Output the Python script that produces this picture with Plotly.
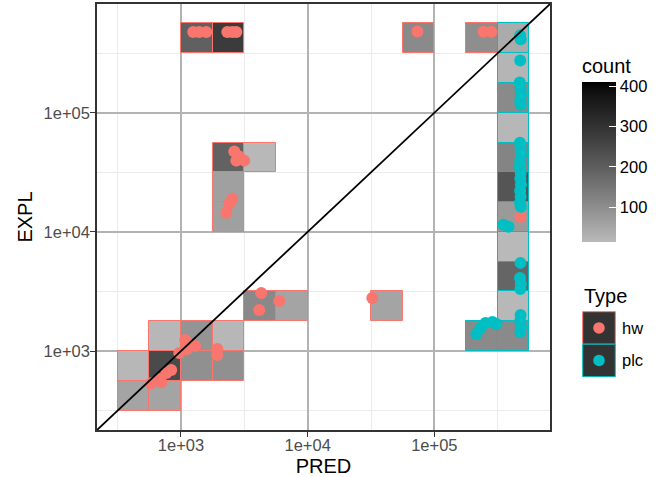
import numpy as np
import plotly.graph_objects as go

# ---------------- data ----------------
BINWIDTH = 0.25  # bin width in log10 units (both axes)

# hw bins: lower-left corner in log10(PRED), log10(EXPL), and count
hw_bin_pred = [3.0, 3.25, 4.75, 5.25, 3.25, 3.5, 3.25, 3.25, 3.5, 3.75, 4.5,
               2.75, 3.0, 3.25, 2.5, 2.75, 3.0, 3.25, 2.5, 2.75]
hw_bin_expl = [5.5, 5.5, 5.5, 5.5, 4.5, 4.5, 4.25, 4.0, 3.25, 3.25, 3.25,
               3.0, 3.0, 3.0, 2.75, 2.75, 2.75, 2.75, 2.5, 2.5]
hw_bin_count = [195, 280, 107, 100, 190, 15, 63, 63, 110, 55, 55,
                18, 88, 18, 18, 245, 95, 95, 55, 55]

# plc bins
plc_bin_pred = [5.5, 5.5, 5.5, 5.5, 5.5, 5.5, 5.5, 5.5, 5.5, 5.5, 5.5, 5.25]
plc_bin_expl = [5.5, 5.25, 5.0, 4.75, 4.5, 4.25, 4.0, 3.75, 3.5, 3.25, 3.0, 3.0]
plc_bin_count = [42, 22, 107, 17, 120, 220, 75, 14, 185, 15, 107, 107]

count_limits = [14, 410]
count_ticks = [100, 200, 300, 400]

# points
hw_pred = [1250, 1394, 1585, 2323, 2541, 2735, 73450, 243800, 281800,
           2636, 2884, 3155, 2735, 2541, 2404, 2281,
           4305, 4150, 5970, 32360,
           1081, 970, 1122, 1297, 1936, 1936, 838, 766, 675, 582, 698,
           477500]
hw_expl = [475300, 475300, 475300, 475300, 475300, 475300, 480000, 478000, 478000,
           47200, 42850, 39630, 39630, 18970, 17220, 14490,
           3076, 2213, 2636, 2793,
           1238, 962, 1040, 1102, 1040, 925, 692, 653, 582, 538, 548,
           13400]

plc_pred = [475000, 480000, 476000, 472000, 478000, 483000, 476000, 480000,
            474000, 479000, 483000, 476000, 472000, 480000, 477000, 482000,
            475000, 479000, 474000, 481000,
            350900, 384100,
            478000, 474000, 481000, 477000, 479000, 475000, 482000, 477000,
            214800, 230700, 252700, 287100, 309000]
plc_expl = [445900, 412700, 274900, 179500, 159900, 142300, 126700, 117300,
            56100, 50000, 44500, 39630, 35300, 31400, 28000, 24900,
            22180, 19740, 17580, 16260,
            11480, 11050,
            5495, 4110, 3659, 3322, 2009, 1787, 1591, 1445,
            1390, 1560, 1718, 1753, 1687]

tick_vals = [3, 4, 5]
tick_text = ["1e+03", "1e+04", "1e+05"]

type_names = ["hw", "plc"]
type_colors = ["#F8766D", "#00BFC4"]

# ---------------- styling helpers ----------------
FONT = "Liberation Sans, Arial, Helvetica, sans-serif"


def lab_gray(t, lo=185):
    """grey -> black interpolated in L* (like ggplot's gradient)."""
    def to_lin(c):
        c = c / 255
        return ((c + 0.055) / 1.055) ** 2.4 if c > 0.04045 else c / 12.92
    L0 = 116 * to_lin(lo) ** (1 / 3) - 16
    L = L0 * (1 - t)
    Y = ((L + 16) / 116) ** 3 if L > 8 else L / 903.3
    c = 1.055 * Y ** (1 / 2.4) - 0.055 if Y > 0.0031308 else 12.92 * Y
    v = int(round(max(0, min(1, c)) * 255))
    return f"rgb({v},{v},{v})"


colorscale = [[float(t), lab_gray(t)] for t in np.linspace(0, 1, 21)]

# panel geometry in pixels (for paper-coordinate decorations)
W, H = 668, 477
ML, MR, MT, MB = 97, 118, 4, 47
PW, PH = W - ML - MR, H - MT - MB


def fx(px):
    return (px - ML) / PW


def fy(py):
    return (H - MB - py) / PH


# axis range: bin extent expanded by 5%
all_lo = min(hw_bin_pred + plc_bin_pred + hw_bin_expl + plc_bin_expl)
all_hi = max(hw_bin_pred + plc_bin_pred + hw_bin_expl + plc_bin_expl) + BINWIDTH
pad = 0.05 * (all_hi - all_lo)
rng = [all_lo - pad, all_hi + pad]

minor_vals = [v - 0.5 for v in tick_vals] + [tick_vals[-1] + 0.5]

fig = go.Figure()


def bin_trace(name, xs, ys, counts, color):
    return go.Bar(
        x=[x + BINWIDTH / 2 for x in xs],
        y=[BINWIDTH] * len(xs),
        base=ys,
        width=BINWIDTH,
        marker=dict(color=counts, coloraxis="coloraxis",
                    line=dict(color=color, width=1)),
        name=name, showlegend=False,
    )


fig.add_trace(bin_trace("hw", hw_bin_pred, hw_bin_expl, hw_bin_count, type_colors[0]))
fig.add_trace(bin_trace("plc", plc_bin_pred, plc_bin_expl, plc_bin_count, type_colors[1]))

fig.add_trace(go.Scatter(x=np.log10(hw_pred), y=np.log10(hw_expl), mode="markers",
                         marker=dict(size=12, color=type_colors[0]), name="hw",
                         showlegend=False))
fig.add_trace(go.Scatter(x=np.log10(plc_pred), y=np.log10(plc_expl), mode="markers",
                         marker=dict(size=12, color=type_colors[1]), name="plc",
                         showlegend=False))

# identity line y = x
fig.add_shape(type="line", xref="x", yref="y", x0=rng[0], y0=rng[0], x1=rng[1], y1=rng[1],
              line=dict(color="black", width=1.8), layer="above")

axis_common = dict(
    range=rng, tickvals=tick_vals, ticktext=tick_text,
    showgrid=True, gridcolor="#b3b3b3", gridwidth=1.8,
    minor=dict(tickvals=minor_vals, showgrid=True, gridcolor="#ebebeb", gridwidth=1),
    ticks="outside", ticklen=5, tickwidth=1, tickcolor="#333333",
    showline=True, mirror=True, linecolor="#333333", linewidth=1.5,
    zeroline=False, automargin=False,
    tickfont=dict(family=FONT, size=16.5, color="#4d4d4d"),
)

CB_TOP, CB_LEN, CB_BAR = 55, 187, 160  # colorbar block top / length, bar length (px)

fig.update_layout(
    width=W, height=H,
    margin=dict(l=ML, r=MR, t=MT, b=MB, autoexpand=False),
    paper_bgcolor="white", plot_bgcolor="white",
    barmode="overlay", bargap=0,
    showlegend=False,
    font=dict(family=FONT, color="black"),
    xaxis=dict(axis_common, ticklabelstandoff=-6,
               title=dict(text="PRED", font=dict(family=FONT, size=20, color="black"), standoff=6)),
    yaxis=dict(axis_common, ticklabelstandoff=-3,
               title=dict(text="EXPL", font=dict(family=FONT, size=20, color="black"), standoff=6)),
    coloraxis=dict(
        colorscale=colorscale, cmin=count_limits[0], cmax=count_limits[1],
        colorbar=dict(
            title=dict(text="count", side="top", font=dict(family=FONT, size=20, color="black")),
            thickness=34, thicknessmode="pixels",
            len=CB_LEN, lenmode="pixels",
            x=fx(582), xanchor="left", y=fy(CB_TOP), yanchor="top",
            xpad=0, ypad=0, outlinewidth=0,
            tickvals=count_ticks, ticks="inside", ticklen=7, tickcolor="white", tickwidth=1,
            tickfont=dict(family=FONT, size=16.5, color="black"),
        ),
    ),
)

# white tick marks on the left edge of the colour bar (ggplot style)
cb_bottom = CB_TOP + CB_LEN
for v in count_ticks:
    ty = cb_bottom - (v - count_limits[0]) / (count_limits[1] - count_limits[0]) * CB_BAR
    fig.add_shape(type="line", xref="paper", yref="paper",
                  x0=fx(582), x1=fx(589), y0=fy(ty), y1=fy(ty),
                  line=dict(color="white", width=1))

# ---------------- Type legend (drawn manually) ----------------
fig.add_annotation(text="Type", xref="paper", yref="paper", x=fx(582), y=fy(296),
                   xanchor="left", yanchor="middle", showarrow=False,
                   font=dict(family=FONT, size=20, color="black"))
key_top = 311.7
key_h = 32.5
r = 5.8
for i, (nm, col) in enumerate(zip(type_names, type_colors)):
    t = key_top + i * key_h
    fig.add_shape(type="rect", xref="paper", yref="paper",
                  x0=fx(582.7), x1=fx(615.3), y0=fy(t + key_h), y1=fy(t),
                  fillcolor="#333333", line=dict(color=col, width=1))
    cx, cy = 599, t + key_h / 2
    fig.add_shape(type="circle", xref="paper", yref="paper",
                  x0=fx(cx - r), x1=fx(cx + r), y0=fy(cy + r), y1=fy(cy - r),
                  fillcolor=col, line=dict(width=0))
    fig.add_annotation(text=nm, xref="paper", yref="paper", x=fx(620), y=fy(cy),
                       xanchor="left", yanchor="middle", showarrow=False,
                       font=dict(family=FONT, size=16.5, color="black"))

fig.write_html("out.html", config={"displayModeBar": False},
               post_script="document.body.style.margin='0px';document.body.style.padding='0px';")
